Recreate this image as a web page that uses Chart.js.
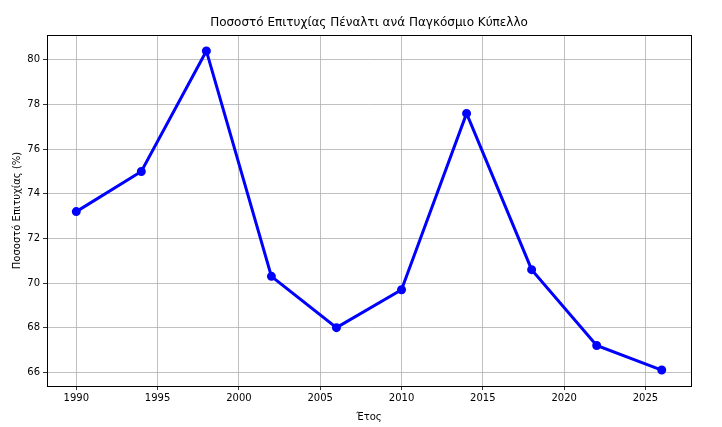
<!DOCTYPE html>
<html>
<head>
<meta charset="utf-8">
<script src="https://cdn.jsdelivr.net/npm/chart.js@4"></script>
<style>
  html, body { margin: 0; padding: 0; background: #fff; }
  #wrap { width: 722px; height: 427px; }
</style>
</head>
<body>
<div id="wrap"><canvas id="penaltyChart"></canvas></div>
<script>
const years = [1990, 1994, 1998, 2002, 2006, 2010, 2014, 2018, 2022, 2026];
const successRate = [73.2, 75.0, 80.4, 70.3, 68.0, 69.7, 77.6, 70.6, 67.2, 66.1];
const xTicks = [1990, 1995, 2000, 2005, 2010, 2015, 2020, 2025];
const yTicks = [66, 68, 70, 72, 74, 76, 78, 80];
const chartTitle = 'Ποσοστό Επιτυχίας Πέναλτι ανά Παγκόσμιο Κύπελλο';

const FONT = "'DejaVu Sans', sans-serif";

// matplotlib-like full frame, title centred over the plot area
const frame = {
    id: 'frame',
    afterDraw(chart) {
        const a = chart.chartArea;
        const ctx = chart.ctx;
        ctx.save();
        ctx.strokeStyle = '#000';
        ctx.lineWidth = 1;
        ctx.strokeRect(a.left + 0.5, a.top + 0.5, a.right - a.left, a.bottom - a.top);
        ctx.fillStyle = '#000';
        ctx.font = '12px ' + FONT;
        ctx.textAlign = 'center';
        ctx.textBaseline = 'middle';
        ctx.fillText(chartTitle, (a.left + a.right) / 2, 23);
        ctx.restore();
    }
};

new Chart(document.getElementById('penaltyChart'), {
    type: 'line',
    data: {
        datasets: [{
            data: years.map((y, i) => ({ x: y, y: successRate[i] })),
            borderColor: '#0000ff',
            backgroundColor: '#0000ff',
            borderWidth: 3,
            pointRadius: 3,
            pointHoverRadius: 3,
            tension: 0
        }]
    },
    options: {
        responsive: true,
        maintainAspectRatio: false,
        animation: false,
        layout: { padding: { left: 0, right: 31, top: 35, bottom: 0 } },
        plugins: {
            legend: { display: false },
            tooltip: { enabled: false },
            title: { display: false }
        },
        scales: {
            x: {
                type: 'linear',
                min: 1988.2,
                max: 2027.8,
                afterBuildTicks: axis => { axis.ticks = xTicks.map(v => ({ value: v })); },
                afterFit: axis => { axis.height = 41; },
                border: { color: '#000', width: 1 },
                grid: { color: '#b0b0b0', lineWidth: 0.8, tickColor: '#000', tickLength: 4 },
                ticks: { color: '#000', font: { family: FONT, size: 10 }, padding: 2, maxRotation: 0,
                    callback: v => String(v) },
                title: { display: true, text: 'Έτος', color: '#000',
                    font: { family: FONT, size: 10 }, padding: { top: 0, bottom: 4 } }
            },
            y: {
                min: 65.385,
                max: 81.115,
                afterBuildTicks: axis => { axis.ticks = yTicks.map(v => ({ value: v })); },
                afterFit: axis => { axis.width = 47; },
                border: { color: '#000', width: 1 },
                grid: { color: '#b0b0b0', lineWidth: 0.8, tickColor: '#000', tickLength: 4 },
                ticks: { color: '#000', font: { family: FONT, size: 10 }, padding: 3 },
                title: { display: true, text: 'Ποσοστό Επιτυχίας (%)', color: '#000',
                    font: { family: FONT, size: 10 }, padding: { top: 11, bottom: 0 } }
            }
        }
    },
    plugins: [frame]
});
</script>
</body>
</html>
